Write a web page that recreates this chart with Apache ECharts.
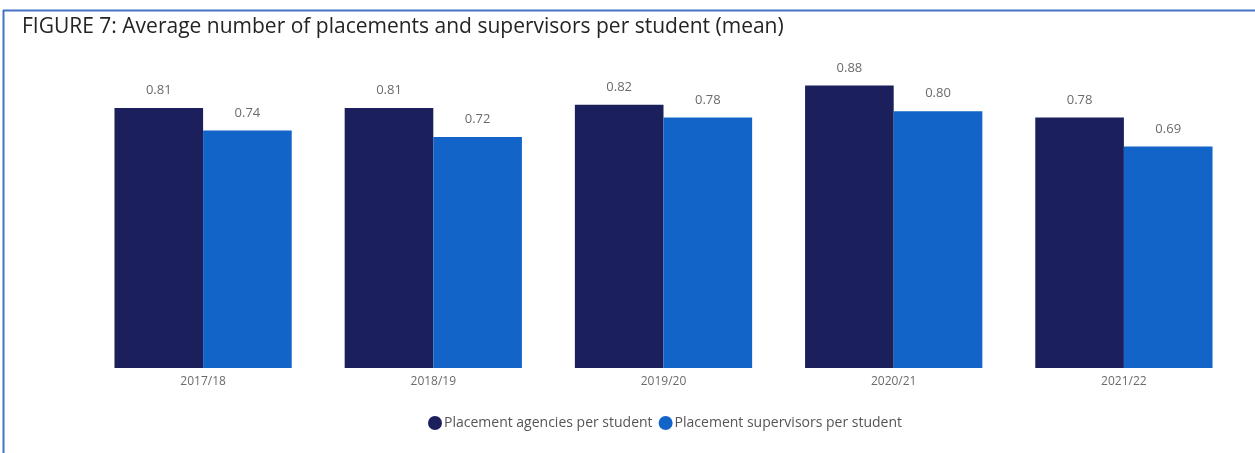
<!DOCTYPE html>
<html>
<head>
<meta charset="utf-8">
<script src="https://cdn.jsdelivr.net/npm/echarts@6/dist/echarts.min.js"></script>
<style>
  html, body { margin: 0; padding: 0; background: #fff; }
  #chart { width: 1255px; height: 453px; }
</style>
</head>
<body>
<div id="chart"></div>
<script>
// Academic years shown on the category axis
const years = ['2017/18', '2018/19', '2019/20', '2020/21', '2021/22'];
// Mean number of placement agencies per student
const agencies = [0.81, 0.81, 0.82, 0.88, 0.78];
// Mean number of placement supervisors per student
const supervisors = [0.74, 0.72, 0.78, 0.80, 0.69];

const chart = echarts.init(document.getElementById('chart'), null, { renderer: 'canvas' });

const labelStyle = {
  show: true,
  position: 'top',
  distance: 11,
  color: '#6b6b6b',
  fontSize: 13,
  fontFamily: 'Open Sans, sans-serif',
  formatter: p => p.value.toFixed(2)
};

chart.setOption({
  animation: false,
  backgroundColor: '#ffffff',
  title: {
    text: 'FIGURE 7: Average number of placements and supervisors per student (mean)',
    left: 17,
    top: 12,
    textStyle: {
      color: '#252423',
      fontSize: 21,
      fontWeight: 'normal',
      fontFamily: 'Open Sans, sans-serif'
    }
  },
  graphic: [
    { type: 'line', shape: { x1: 3, y1: 10.5, x2: 1255, y2: 10.5 }, style: { stroke: '#4472c4', lineWidth: 2 } },
    { type: 'line', shape: { x1: 3.5, y1: 10, x2: 3.5, y2: 453 }, style: { stroke: '#4472c4', lineWidth: 2 } }
  ],
  legend: {
    bottom: 18,
    left: 423,
    itemGap: 6,
    itemWidth: 14,
    itemHeight: 14,
    icon: 'circle',
    textStyle: { color: '#555555', fontSize: 14, fontFamily: 'Open Sans, sans-serif', padding: [0, 0, 0, -3] },
    data: ['Placement agencies per student', 'Placement supervisors per student']
  },
  grid: { left: 88, right: 16, top: 47, bottom: 85, containLabel: false },
  xAxis: {
    type: 'category',
    data: years,
    axisLine: { show: false },
    axisTick: { show: false },
    axisLabel: { color: '#6b6b6b', fontSize: 12, fontFamily: 'Open Sans, sans-serif', margin: 8 }
  },
  yAxis: {
    type: 'value',
    min: 0,
    max: 1,
    show: false,
    splitLine: { show: false }
  },
  series: [
    {
      name: 'Placement agencies per student',
      type: 'bar',
      data: agencies,
      barGap: '0%',
      barCategoryGap: '23%',
      itemStyle: { color: '#1b1f5c' },
      label: labelStyle
    },
    {
      name: 'Placement supervisors per student',
      type: 'bar',
      data: supervisors,
      itemStyle: { color: '#1264c8' },
      label: labelStyle
    }
  ]
});
</script>
</body>
</html>
